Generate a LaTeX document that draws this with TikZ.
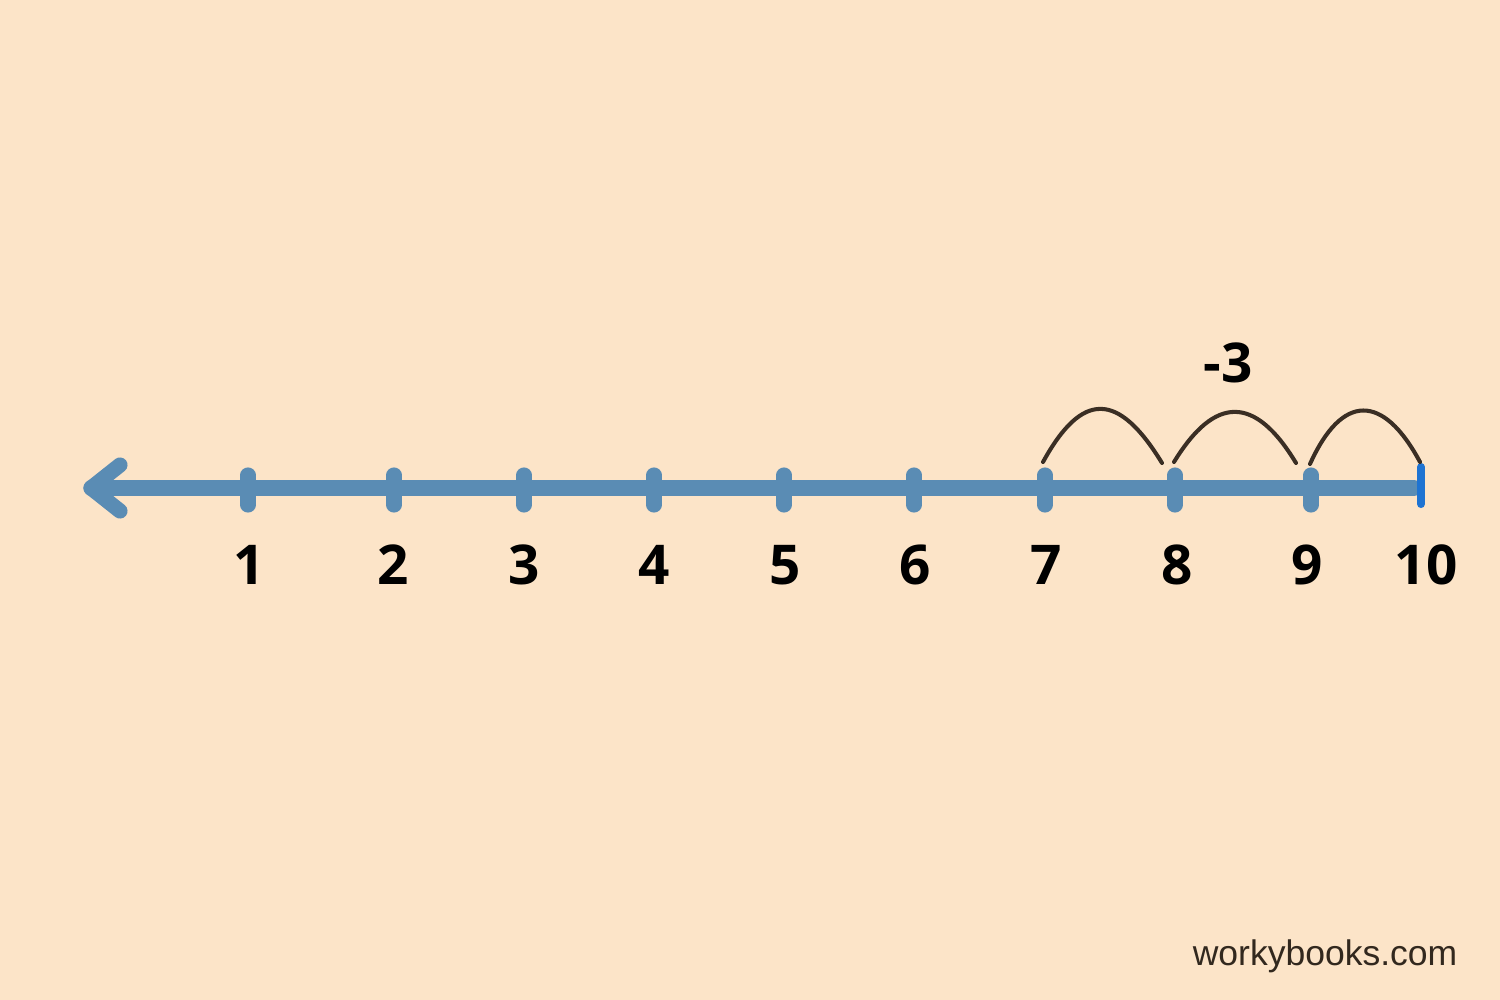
\documentclass[tikz,border=0pt]{standalone}
\usepackage{fontspec}
\setmainfont{Open Sans}
\newfontfamily\markfont{Liberation Sans}
\definecolor{bg}{RGB}{252,228,200}
\definecolor{axis}{RGB}{90,140,180}
\definecolor{endtick}{RGB}{30,115,210}
\definecolor{hop}{RGB}{58,46,36}
\definecolor{mark}{RGB}{50,40,30}
\tikzset{
  axisline/.style={draw=axis, line width=4.3pt, line cap=round, line join=round},
  ticker/.style={draw=axis, line width=4.3pt, line cap=round},
  endticker/.style={draw=endtick, line width=2.3pt, line cap=round},
  hopline/.style={draw=hop, line width=1.15pt, line cap=round},
  numlabel/.style={font=\fontsize{15.6}{16}\selectfont\bfseries, text=black, inner sep=0pt, anchor=center},
  marklabel/.style={font=\markfont\fontsize{10.1}{12}\selectfont, text=mark, inner sep=0pt, anchor=base east}
}
\begin{document}
\begin{tikzpicture}[x=0.01cm, y=-0.01cm]
\fill[bg] (0,0) rectangle (1500,1000);
\useasboundingbox (0,0) rectangle (1500,1000);
% axis
\coordinate (left) at (91,488);
\coordinate (right) at (1414,488);
\draw[axisline] (left) -- (right);
\draw[axisline] (120,465) -- (left) -- (120,511);
% ticks
\foreach \i/\x in {1/248,2/394,3/524,4/654,5/784,6/914,7/1045,8/1175,9/1311}{
  \coordinate (t\i) at (\x,488);
  \draw[ticker] (\x,475) -- (\x,505);
}
\coordinate (t10) at (1421,488);
\draw[endticker] (1421,467) -- (1421,504);
% labels
\foreach \i/\x in {1/249,2/393,3/524,4/654,5/785,6/915,7/1046,8/1177,9/1307,10/1426}{
  \node[numlabel] (n\i) at (\x,565) {\i};
}
\node[numlabel] (minus) at (1228,363) {-3};
% hops
\coordinate (a0) at (1043,462);
\coordinate (a1) at (1162,463);
\coordinate (b0) at (1174,462);
\coordinate (b1) at (1296,463);
\coordinate (c0) at (1310,464);
\coordinate (c1) at (1420,462);
\draw[hopline] (a0) .. controls (1082,391) and (1118,391) .. (a1);
\draw[hopline] (b0) .. controls (1215,395) and (1255,395) .. (b1);
\draw[hopline] (c0) .. controls (1342,393) and (1383,393) .. (c1);
% watermark
\node[marklabel] (wm) at (1458,965) {workybooks.com};
\end{tikzpicture}
\end{document}
